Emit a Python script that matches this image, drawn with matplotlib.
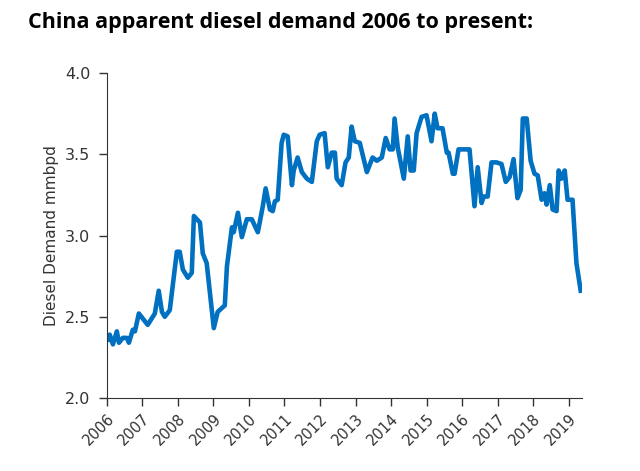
import numpy as np
from matplotlib import pyplot as plt

# Fechas (año decimal) y demanda aparente de diésel (mmbpd)
fechas = [2006.03, 2006.08, 2006.17, 2006.28, 2006.34, 2006.45, 2006.56, 2006.62, 2006.73, 2006.79,
          2006.90, 2007.15, 2007.35, 2007.46, 2007.55, 2007.63, 2007.77, 2007.97, 2008.05, 2008.14,
          2008.28, 2008.39, 2008.45, 2008.62, 2008.70, 2008.81, 2009.01, 2009.12, 2009.32, 2009.38,
          2009.52, 2009.57, 2009.69, 2009.80, 2009.94, 2010.08, 2010.25, 2010.39, 2010.47, 2010.59,
          2010.67, 2010.73, 2010.81, 2010.92, 2010.98, 2011.09, 2011.21, 2011.26, 2011.37, 2011.49,
          2011.63, 2011.77, 2011.91, 2011.99, 2012.13, 2012.22, 2012.33, 2012.42, 2012.47, 2012.61,
          2012.72, 2012.81, 2012.89, 2012.98, 2013.12, 2013.32, 2013.48, 2013.60, 2013.74, 2013.85,
          2013.96, 2014.05, 2014.10, 2014.19, 2014.36, 2014.47, 2014.55, 2014.64, 2014.72, 2014.86,
          2015.00, 2015.14, 2015.23, 2015.31, 2015.45, 2015.57, 2015.62, 2015.74, 2015.79, 2015.90,
          2016.16, 2016.21, 2016.35, 2016.44, 2016.55, 2016.61, 2016.72, 2016.83, 2016.97, 2017.11,
          2017.23, 2017.34, 2017.45, 2017.56, 2017.65, 2017.71, 2017.82, 2017.93, 2018.04, 2018.13,
          2018.24, 2018.32, 2018.38, 2018.47, 2018.55, 2018.66, 2018.72, 2018.80, 2018.89, 2018.97,
          2019.11, 2019.22, 2019.34]
demanda = [2.36, 2.39, 2.33, 2.41, 2.34, 2.37, 2.37, 2.34, 2.42, 2.41,
           2.52, 2.45, 2.52, 2.66, 2.53, 2.50, 2.54, 2.90, 2.90, 2.79,
           2.74, 2.77, 3.12, 3.08, 2.89, 2.83, 2.43, 2.53, 2.57, 2.81,
           3.05, 3.02, 3.14, 2.99, 3.10, 3.10, 3.02, 3.18, 3.29, 3.16,
           3.15, 3.21, 3.22, 3.57, 3.62, 3.61, 3.31, 3.40, 3.48, 3.39,
           3.35, 3.33, 3.58, 3.62, 3.63, 3.42, 3.51, 3.51, 3.35, 3.31,
           3.45, 3.48, 3.67, 3.58, 3.57, 3.39, 3.48, 3.46, 3.48, 3.60,
           3.53, 3.53, 3.72, 3.54, 3.35, 3.61, 3.40, 3.40, 3.63, 3.73,
           3.74, 3.58, 3.75, 3.66, 3.66, 3.51, 3.51, 3.38, 3.38, 3.53,
           3.53, 3.53, 3.18, 3.42, 3.20, 3.24, 3.24, 3.45, 3.45, 3.44,
           3.33, 3.36, 3.47, 3.23, 3.28, 3.72, 3.72, 3.46, 3.38, 3.37,
           3.22, 3.26, 3.19, 3.31, 3.16, 3.15, 3.40, 3.35, 3.40, 3.22,
           3.22, 2.83, 2.66]

anios = list(range(2006, 2020))
yticks = [2.0, 2.5, 3.0, 3.5, 4.0]

fig = plt.figure(figsize=(6.4, 4.71), dpi=100)
ax = fig.add_axes([0.167, 0.155, 0.742, 0.690])

ax.plot(fechas, demanda, color="#0070C0", linewidth=3.3, solid_joinstyle="round")

ax.set_xlim(2006, 2019.37)
ax.set_ylim(2.0, 4.0)
ax.set_xticks(anios)
ax.set_xticklabels([str(a) for a in anios], rotation=45, ha="right",
                   rotation_mode="anchor", fontsize=10.5, color="#333333")
ax.set_yticks(yticks)
ax.set_yticklabels(["%.1f" % v for v in yticks], fontsize=11.5, color="#333333")
ax.tick_params(direction="out", length=6, width=1, color="#333333")
ax.tick_params(axis="y", pad=6)
ax.set_ylabel("Diesel Demand mmbpd", fontsize=11, color="#333333", labelpad=4)

for lado in ["top", "right"]:
    ax.spines[lado].set_visible(False)
for lado in ["left", "bottom"]:
    ax.spines[lado].set_color("#333333")

fig.text(0.044, 0.953, "China apparent diesel demand 2006 to present:",
         fontsize=15.5, fontweight="bold", family="Open Sans", va="center", ha="left")

plt.savefig("out.png", dpi=100)
